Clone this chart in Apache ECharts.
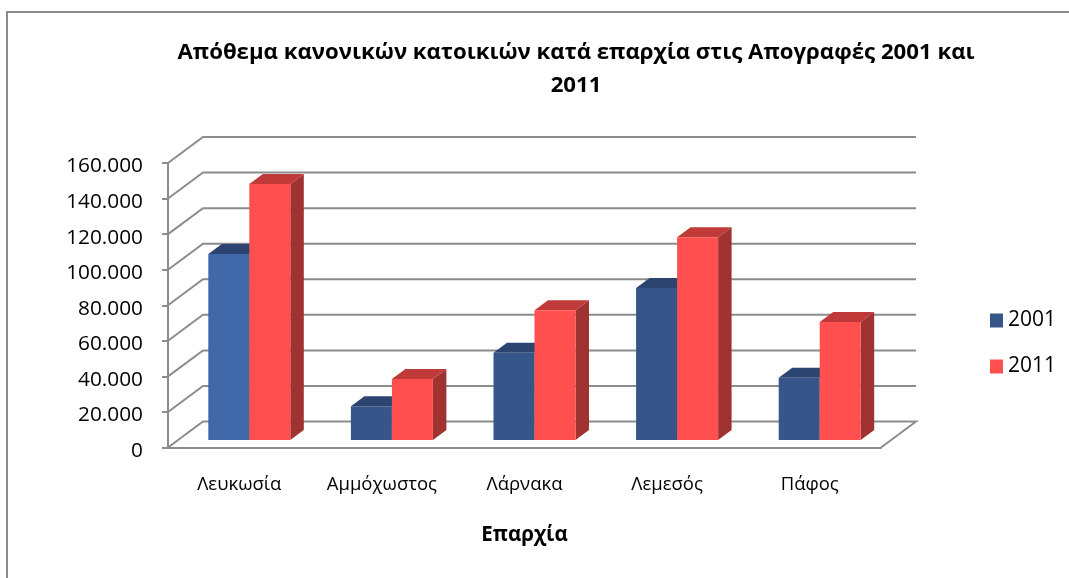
<!DOCTYPE html>
<html><head><meta charset="utf-8">
<style>html,body{margin:0;padding:0;background:#fff;overflow:hidden}#c{width:1069px;height:578px}</style>
<script src="https://cdn.jsdelivr.net/npm/echarts@6/dist/echarts.min.js"></script>
</head><body><div id="c"></div>
<script>
const categories = ['Λευκωσία','Αμμόχωστος','Λάρνακα','Λεμεσός','Πάφος'];
const values2001 = [104600,19000,49000,85500,35000];
const values2011 = [144000,34300,73000,114000,66400];
const yTicks = [0,20000,40000,60000,80000,100000,120000,140000,160000];
const titleLines = 'Απόθεμα κανονικών κατοικιών κατά επαρχία στις Απογραφές 2001 και\n2011';
const FONT = '"Open Sans"';
const WALL = [35,-26];      // depth of the chart floor
const BAR_FRONT = [10,-7.5];
const BAR_DEPTH = [13.5,-10];
const BAR_W = 41;
const GRID = '#8c8c8c';

function barRender(offsetBars, pal){
  return function(params, api){
    const i = api.value(0);
    const top = api.coord([i, api.value(1)]);
    const base = api.coord([i, 0]);
    const xl = top[0] + BAR_FRONT[0] + offsetBars*BAR_W;
    const xr = xl + BAR_W;
    const yt = top[1] + BAR_FRONT[1], yb = base[1] + BAR_FRONT[1];
    const dx = BAR_DEPTH[0], dy = BAR_DEPTH[1];
    const front = pal.frontAt ? (pal.frontAt[i] || pal.front) : pal.front;
    return {type:'group', children:[
      {type:'polygon', shape:{points:[[xr,yt],[xr+dx,yt+dy],[xr+dx,yb+dy],[xr,yb]]}, style:{fill:pal.side}},
      {type:'polygon', shape:{points:[[xl,yt],[xl+dx,yt+dy],[xr+dx,yt+dy],[xr,yt]]}, style:{fill:pal.top}},
      {type:'rect', shape:{x:xl,y:yt,width:BAR_W,height:yb-yt}, style:{fill:front}}
    ]};
  };
}
function wallRender(params, api){
  const v = api.value(0);
  const cs = params.coordSys;
  const y = api.coord([0,v])[1];
  const x0 = cs.x, x1 = cs.x+cs.width;
  const pts = [[x0,y],[x0+WALL[0],y+WALL[1]],[x1+WALL[0],y+WALL[1]]];
  if(v===0) pts.push([x1,y]);
  return {type:'polyline', shape:{points:pts}, style:{fill:'none',stroke:GRID,lineWidth:2}, silent:true};
}
const chart = echarts.init(document.getElementById('c'),null,{renderer:'canvas'});
chart.setOption({
  animation:false,
  backgroundColor:'#fff',
  textStyle:{fontFamily:FONT},
  graphic:[{type:'rect',z:-10,shape:{x:7,y:12,width:1150,height:700},style:{fill:'#fff',stroke:'#8c8c8c',lineWidth:2}}],
  title:{text:titleLines,left:571,top:31,textAlign:'center',
    textStyle:{fontFamily:FONT,fontSize:22.2,fontWeight:'bold',color:'#000',lineHeight:33}},
  legend:{data:['2001','2011'],orient:'vertical',left:985,top:305,itemWidth:13,itemHeight:14,itemGap:25,icon:'rect',
    textStyle:{fontFamily:FONT,fontSize:21,color:'#000'},itemStyle:{borderWidth:0}},
  grid:{left:168,right:188,top:163,bottom:130.5},
  xAxis:{type:'category',data:categories,boundaryGap:true,
    axisLine:{lineStyle:{color:GRID,width:2}},axisTick:{show:false},
    axisLabel:{fontFamily:FONT,fontSize:18.5,color:'#000',margin:28,interval:0,hideOverlap:false},
    name:'Επαρχία',nameLocation:'middle',nameGap:77,
    nameTextStyle:{fontFamily:FONT,fontSize:20.5,fontWeight:'bold',color:'#000'}},
  yAxis:{type:'value',min:0,max:160000,interval:20000,
    axisLine:{show:true,lineStyle:{color:GRID,width:2}},
    axisTick:{show:true,length:6,lineStyle:{color:GRID,width:2}},
    splitLine:{show:false},
    axisLabel:{fontFamily:FONT,fontSize:20.8,color:'#000',margin:25,verticalAlign:'top',lineHeight:7,
      formatter:v=>String(v).replace(/\B(?=(\d{3})+$)/g,'.')}},
  series:[
    {type:'custom',name:'wall',data:yTicks.map(v=>[v]),renderItem:wallRender,encode:{y:0},z:1,silent:true},
    {type:'custom',name:'2001',coordinateSystem:'cartesian2d',z:2,
      itemStyle:{color:'#365589'},
      data:values2001.map((v,i)=>[i,v]),encode:{x:0,y:1},
      renderItem:barRender(-1,{front:'#365589',frontAt:{0:'#4169AA'},top:'#2C4470',side:'#2C4470'})},
    {type:'custom',name:'2011',coordinateSystem:'cartesian2d',z:3,
      itemStyle:{color:'#FF4F4F'},
      data:values2011.map((v,i)=>[i,v]),encode:{x:0,y:1},
      renderItem:barRender(0,{front:'#FF4F4F',top:'#C03A3A',side:'#A03232'})}
  ]
});
</script></body></html>
